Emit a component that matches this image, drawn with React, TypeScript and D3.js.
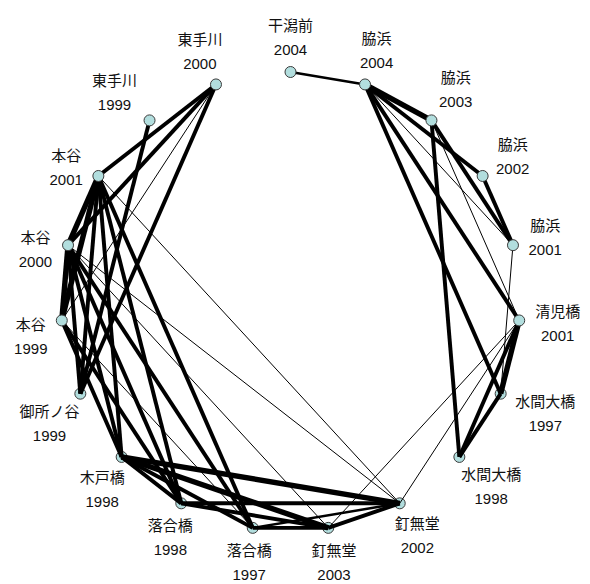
import React from "react";
import * as d3 from "d3";

// Sampling sites (station name + survey year), in clockwise order from the top
const siteNames = [
  "干潟前", "脇浜", "脇浜", "脇浜", "脇浜", "清児橋", "水間大橋", "水間大橋",
  "釘無堂", "釘無堂", "落合橋", "落合橋", "木戸橋", "御所ノ谷", "本谷", "本谷",
  "本谷", "東手川", "東手川",
];
const siteYears = [
  "2004", "2004", "2003", "2002", "2001", "2001", "1997", "1998",
  "2002", "2003", "1997", "1998", "1998", "1999", "1999", "2000",
  "2001", "1999", "2000",
];

// Links between sites: [site A, site B, strength (1 = weak … 4 = strong)]
const links: [string, string, number][] = [
  ["干潟前2004", "脇浜2004", 2],
  ["脇浜2004", "脇浜2003", 4],
  ["脇浜2004", "脇浜2002", 3],
  ["脇浜2004", "脇浜2001", 1],
  ["脇浜2004", "清児橋2001", 3],
  ["脇浜2004", "水間大橋1997", 3],
  ["脇浜2003", "脇浜2001", 3],
  ["脇浜2003", "清児橋2001", 1],
  ["脇浜2003", "水間大橋1998", 3],
  ["脇浜2002", "脇浜2001", 3],
  ["脇浜2001", "水間大橋1997", 1],
  ["清児橋2001", "水間大橋1997", 4],
  ["清児橋2001", "水間大橋1998", 3],
  ["水間大橋1997", "水間大橋1998", 3],
  ["清児橋2001", "釘無堂2002", 1],
  ["清児橋2001", "釘無堂2003", 1],
  ["東手川2000", "本谷2001", 3],
  ["東手川2000", "本谷2000", 3],
  ["東手川2000", "本谷1999", 1],
  ["東手川2000", "御所ノ谷1999", 3],
  ["東手川1999", "御所ノ谷1999", 3],
  ["本谷2001", "本谷2000", 4],
  ["本谷2001", "本谷1999", 4],
  ["本谷2000", "本谷1999", 4],
  ["本谷2001", "御所ノ谷1999", 3],
  ["本谷2001", "木戸橋1998", 3],
  ["本谷2001", "落合橋1998", 3],
  ["本谷2001", "落合橋1997", 3],
  ["本谷2001", "釘無堂2002", 1],
  ["本谷2000", "御所ノ谷1999", 3],
  ["本谷2000", "木戸橋1998", 3],
  ["本谷2000", "落合橋1998", 3],
  ["本谷2000", "落合橋1997", 3],
  ["本谷2000", "釘無堂2003", 1],
  ["本谷2000", "釘無堂2002", 1],
  ["本谷1999", "木戸橋1998", 3],
  ["本谷1999", "落合橋1998", 3],
  ["本谷1999", "落合橋1997", 1],
  ["木戸橋1998", "落合橋1998", 3],
  ["木戸橋1998", "落合橋1997", 3],
  ["木戸橋1998", "釘無堂2003", 4],
  ["木戸橋1998", "釘無堂2002", 4],
  ["落合橋1998", "釘無堂2002", 3],
  ["落合橋1998", "釘無堂2003", 3],
  ["落合橋1997", "釘無堂2003", 3],
  ["落合橋1997", "釘無堂2002", 2],
  ["釘無堂2003", "釘無堂2002", 3],
];

const WIDTH = 590;
const HEIGHT = 584;
const CX = 290.5;
const CY = 301.5;
const RADIUS = 229.5;
const NODE_R = 5.5;
const FONT_SIZE = 15;
const LINE_GAP = 24;
const LABEL_GAP = 16;

// Sites whose circles sit beneath the link lines
const drawnUnderLinks = new Set([
  "水間大橋1997", "水間大橋1998", "釘無堂2002", "釘無堂2003",
  "落合橋1997", "落合橋1998", "木戸橋1998", "御所ノ谷1999",
]);

type Site = { id: string; name: string; year: string; angle: number; x: number; y: number };

export default function App() {
  const ids = siteNames.map((n, i) => n + siteYears[i]);
  const angle = d3
    .scaleLinear()
    .domain([0, ids.length])
    .range([-Math.PI / 2, (3 * Math.PI) / 2]);

  const sites: Site[] = ids.map((id, i) => {
    const a = angle(i);
    return {
      id,
      name: siteNames[i],
      year: siteYears[i],
      angle: a,
      x: CX + RADIUS * Math.cos(a),
      y: CY + RADIUS * Math.sin(a),
    };
  });
  const byId = new Map(sites.map((s) => [s.id, s]));

  const strokeWidth = d3.scaleLinear().domain([1, 4]).range([1, 5.4]);

  // Two-line label box pushed outward from its node; labels on the left
  // half swing a little downward to keep clear of the dense link bundle.
  const label = (s: Site) => {
    const halfW = Math.max(s.name.length * FONT_SIZE, 4 * FONT_SIZE * 0.556) / 2;
    const halfH = 18.5;
    const swing = (-22 * Math.PI) / 180 * Math.max(0, -Math.cos(s.angle));
    const dir = s.angle + swing;
    const c = Math.cos(dir);
    const sn = Math.sin(dir);
    const hit = Math.min(
      Math.abs(c) > 1e-6 ? halfW / Math.abs(c) : Infinity,
      Math.abs(sn) > 1e-6 ? halfH / Math.abs(sn) : Infinity
    );
    const t = LABEL_GAP + hit;
    return { x: s.x + t * c, y: s.y + t * sn };
  };

  const nodeCircle = (s: Site) => (
    <circle
      key={s.id}
      cx={s.x}
      cy={s.y}
      r={NODE_R}
      fill="#b2dede"
      stroke="#3a3a3a"
      strokeWidth={1}
    />
  );

  return (
    <svg
      width={WIDTH}
      height={HEIGHT}
      style={{ position: "absolute", left: 0, top: 0, background: "#fff" }}
      fontFamily="'Liberation Sans', 'Noto Sans CJK JP', sans-serif"
    >
      <rect width={WIDTH} height={HEIGHT} fill="#fff" />
      <g>{sites.filter((s) => drawnUnderLinks.has(s.id)).map(nodeCircle)}</g>
      <g stroke="#000" strokeLinecap="butt">
        {links.map(([a, b, w], i) => {
          const s = byId.get(a)!;
          const t = byId.get(b)!;
          return (
            <line
              key={i}
              x1={s.x}
              y1={s.y}
              x2={t.x}
              y2={t.y}
              strokeWidth={strokeWidth(w)}
            />
          );
        })}
      </g>
      <g>{sites.filter((s) => !drawnUnderLinks.has(s.id)).map(nodeCircle)}</g>
      <g fontSize={FONT_SIZE} fill="#111" textAnchor="middle">
        {sites.map((s) => {
          const p = label(s);
          return (
            <g key={s.id}>
              <text x={p.x} y={p.y - LINE_GAP / 2} dominantBaseline="central">
                {s.name}
              </text>
              <text x={p.x} y={p.y + LINE_GAP / 2} dominantBaseline="central">
                {s.year}
              </text>
            </g>
          );
        })}
      </g>
    </svg>
  );
}
